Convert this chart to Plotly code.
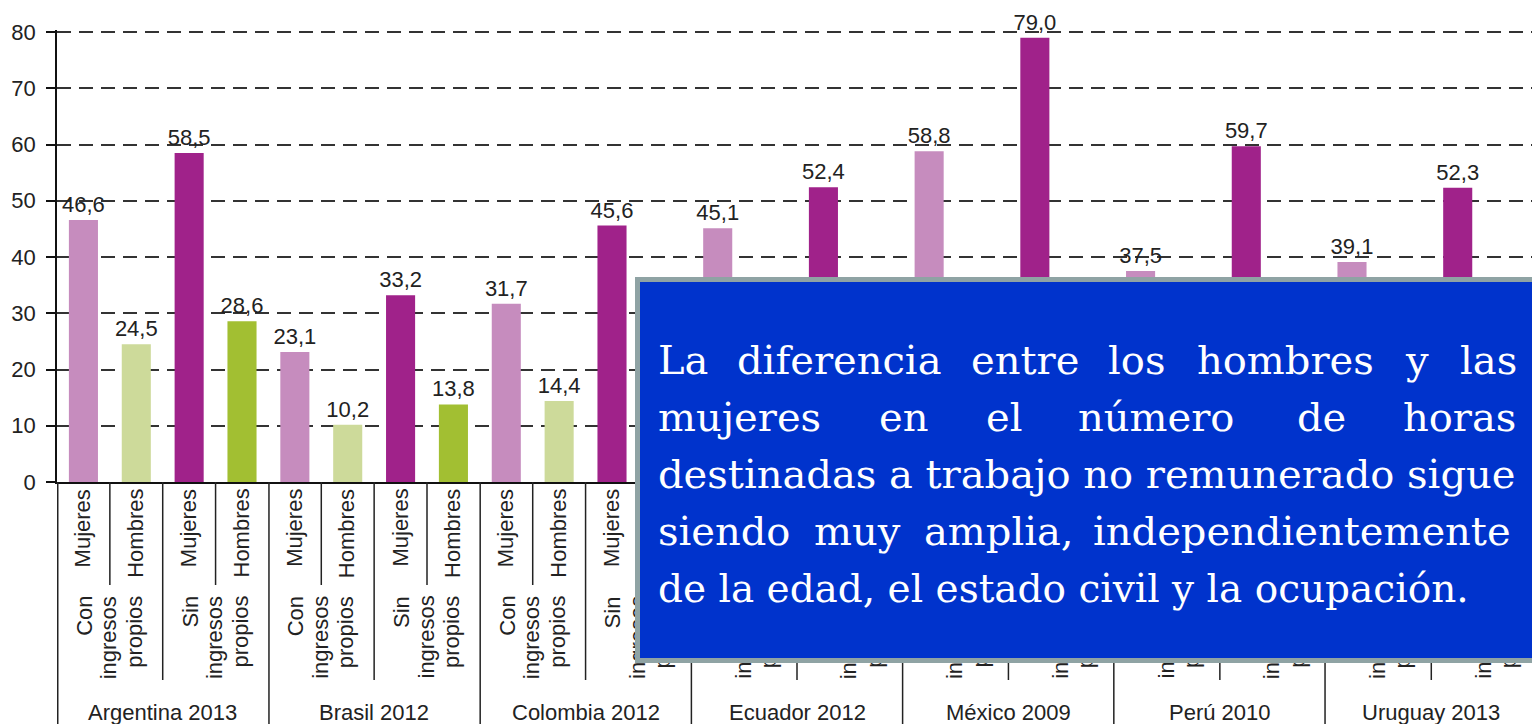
import plotly.graph_objects as go

# ---------------- data ----------------
paises = ["Argentina 2013", "Brasil 2012", "Colombia 2012", "Ecuador 2012",
          "México 2009", "Perú 2010", "Uruguay 2013"]
con_mujeres = [46.6, 23.1, 31.7, 45.1, 58.8, 37.5, 39.1]
con_hombres = [24.5, 10.2, 14.4, 11.0, 22.0, 13.5, 16.0]   # last five hidden behind the box (estimated)
sin_mujeres = [58.5, 33.2, 45.6, 52.4, 79.0, 59.7, 52.3]
sin_hombres = [28.6, 13.8, 17.0, 12.0, 25.0, 15.0, 19.0]   # last five hidden behind the box (estimated)
grupos = [["Con", "ingresos", "propios"], ["Sin", "ingresos", "propios"]]
sexos = ["Mujeres", "Hombres"]
y_ticks = [0, 10, 20, 30, 40, 50, 60, 70, 80]

# text of the blue box: justified lines are split in words, the others are whole lines
mensaje = [
    ["La", "diferencia", "entre", "los", "hombres", "y", "las"],
    ["mujeres", "en", "el", "número", "de", "horas"],
    ["destinadas a trabajo no remunerado sigue"],
    ["siendo", "muy", "amplia,", "independientemente"],
    ["de la edad, el estado civil y la ocupación."],
]

# ---------------- styling / layout constants ----------------
OFF = 8                      # page body margin of the html page
W, H = 1540 - OFF, 724 - OFF
L, R, T, B = 47, 3, 22, 242
PW, PH = W - L - R, H - T - B
YMAX = 80 * PH / 450         # 80 lands 2px below the top edge
colores = ["#c68cbe", "#cdda9a", "#a0228a", "#a2bf32"]
series = [con_mujeres, con_hombres, sin_mujeres, sin_hombres]
FONT = "Liberation Sans, Arial, sans-serif"
TXT = "#222222"

# word x positions (screen pixels) for the box text
word_x = [
    [657, 736, 970, 1107, 1197, 1405, 1460],
    [657, 878, 985, 1077, 1297, 1403],
    [657],
    [657, 813, 923, 1092],
    [657],
]
baselines = [374, 431, 488, 545, 602]
box_sizes = [40, 40, 40, 40, 39]


def px(x):
    return (x - OFF - L) / PW


def py(y):
    return (H - B - (y - OFF)) / PH


def fmt(v):
    return f"{v:.1f}".replace(".", ",")


fig = go.Figure()
for vals, col in zip(series, colores):
    fig.add_trace(go.Bar(
        x=paises, y=vals, marker=dict(color=col, line=dict(width=0)),
        text=[fmt(v) for v in vals], texttemplate="%{text}",
        textposition="outside", constraintext="none", cliponaxis=False,
        textfont=dict(family=FONT, size=22, color=TXT),
        hoverinfo="skip", showlegend=False,
    ))

annotations = []
shapes = []
LINE = dict(color="#222", width=1.5)
for i, pais in enumerate(paises):
    for j in range(4):
        annotations.append(dict(
            x=i - 0.375 + 0.25 * j, xref="x", y=py(489), yref="paper",
            text=sexos[j % 2], textangle=-90, showarrow=False, xshift=-1,
            xanchor="center", yanchor="top", borderpad=0, borderwidth=0,
            font=dict(family=FONT, size=22, color=TXT)))
    for g in range(2):
        for n, palabra in enumerate(grupos[g]):
            annotations.append(dict(
                x=i - 0.25 + 0.5 * g, xref="x", y=py(596), yref="paper",
                xshift=(n - 1) * 25 - 1,
                text=palabra, textangle=-90, showarrow=False,
                xanchor="center", yanchor="top", borderpad=0, borderwidth=0,
                font=dict(family=FONT, size=22, color=TXT)))
    annotations.append(dict(
        x=i, xref="x", y=py(712), yref="paper", text=pais, showarrow=False,
        xanchor="center", yanchor="middle",
        font=dict(family=FONT, size=22, color=TXT)))
    for k in (-0.25, 0.25):
        shapes.append(dict(type="line", xref="x", yref="paper", x0=i + k, x1=i + k,
                           y0=py(482), y1=py(585), line=LINE))
    shapes.append(dict(type="line", xref="x", yref="paper", x0=i, x1=i,
                       y0=py(482), y1=py(680), line=LINE))
for i in range(len(paises) + 1):
    xx = (0.75 + (PW - 1.5) * i / len(paises)) / PW
    shapes.append(dict(type="line", xref="paper", yref="paper", x0=xx, x1=xx,
                       y0=py(482), y1=py(724), line=LINE))

# blue box (as an annotation so that it sits above the category labels)
bx0, bx1, by0, by1 = 634, 1538, 277, 663
annotations.append(dict(
    x=px((bx0 + bx1) / 2), xref="paper", y=py((by0 + by1) / 2), yref="paper",
    text=" ", showarrow=False, xanchor="center", yanchor="middle",
    width=bx1 - bx0 - 10, height=by1 - by0 - 10,
    bgcolor="#0033cc", bordercolor="#8fa3a4", borderwidth=5, borderpad=0))

for words, xs, bl, fs in zip(mensaje, word_x, baselines, box_sizes):
    for w, x in zip(words, xs):
        annotations.append(dict(
            x=px(x), xref="paper", y=py(bl - 14), yref="paper", text=w,
            showarrow=False, xanchor="left", yanchor="middle",
            borderpad=0, borderwidth=0,
            font=dict(family="DejaVu Serif, serif", size=fs, color="white")))

fig.update_layout(
    width=W, height=H, margin=dict(l=L, r=R, t=T, b=B, pad=0),
    paper_bgcolor="white", plot_bgcolor="white",
    barmode="group", bargap=0, bargroupgap=0.45,
    font=dict(family=FONT, size=22, color=TXT),
    annotations=annotations, shapes=shapes,
    xaxis=dict(type="category", range=[-0.5, 6.5], showticklabels=False,
               showline=True, linecolor="#111", linewidth=1.5, ticks="",
               showgrid=False, zeroline=False, fixedrange=True),
    yaxis=dict(range=[0, YMAX], tickvals=y_ticks, showgrid=True,
               gridcolor="#333", gridwidth=1.5, griddash="14px,8px",
               showline=True, linecolor="#111", linewidth=1.5,
               ticks="outside", ticklen=9, tickcolor="#111", tickwidth=1.5,
               ticklabelstandoff=6, zeroline=False,
               tickfont=dict(family=FONT, size=22, color=TXT)),
)

fig.write_html("out.html")
